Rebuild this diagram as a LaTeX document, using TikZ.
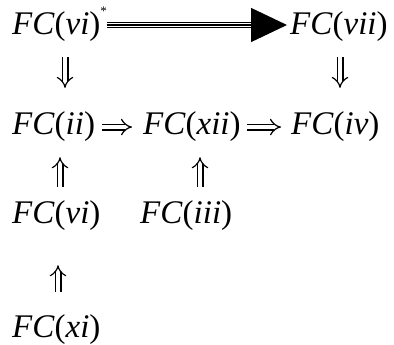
\documentclass[tikz,border=0pt]{standalone}
\usepackage{fontspec}
\setmainfont{Liberation Serif}
\usetikzlibrary{arrows.meta, calc}

\newcommand{\fc}[1]{\textit{FC}(\textit{#1})}

\begin{document}
\begin{tikzpicture}[
    x=1pt, y=-1pt,
    term/.style  = {inner sep=0pt, anchor=base west, font=\fontsize{33}{38}\selectfont},
    imp/.style   = {double, double distance=4.6pt, line width=1.2pt, -{Implies}},
    big/.style   = {line width=1.3pt, -{Triangle[length=36pt, width=34pt]}}
]
    \useasboundingbox (0,0) rectangle (394,345);

    % --- Baris atas ---
    \node (vistar) [term] at (12,35) {\fc{vi}\raisebox{19pt}{\fontsize{13}{13}\selectfont *}};
    \node (vii)    [term] at (290,35) {\fc{vii}};

    % --- Baris tengah ---
    \node (ii)  [term] at (12,135)  {\fc{ii}};
    \node (xii) [term] at (143,135) {\fc{xii}};
    \node (iv)  [term] at (291,135) {\fc{iv}};

    % --- Baris bawah ---
    \node (vi)  [term] at (12,223)  {\fc{vi}};
    \node (iii) [term] at (140,223) {\fc{iii}};
    \node (xi)  [term] at (12,337)  {\fc{xi}};

    % --- Panah besar (garis tiga) ---
    \draw [line width=1.3pt, double, double distance=3.7pt]
        ($(vistar.base east)+(0,-10)$) -- ($(vii.base west)+(-36,-10)$);
    \draw [big] ($(vistar.base east)+(0,-10)$) -- ($(vii.base west)+(-3,-10)$);

    % --- Panah vertikal ---
    \draw [imp] ($(vistar.south west)+(53,15)$) -- ($(ii.north west)+(53,-24)$);
    \draw [imp] ($(vii.south west)+(50,15)$) -- ($(vii.south west |- iv.north)+(50,-24)$);
    \draw [imp] ($(vi.north west)+(48,-13)$) -- ($(ii.south west)+(48,15)$);
    \draw [imp] ($(iii.north west)+(60,-13)$) -- ($(iii.north west |- xii.south)+(60,15)$);
    \draw [imp] ($(xi.north west)+(46,-22)$) -- ($(vi.south west)+(46,35)$);

    % --- Panah horizontal ---
    \draw [imp, shorten <=7pt, shorten >=11pt] (ii) -- (xii);
    \draw [imp, shorten <=6pt, shorten >=10pt] (xii) -- (iv);

\end{tikzpicture}
\end{document}
